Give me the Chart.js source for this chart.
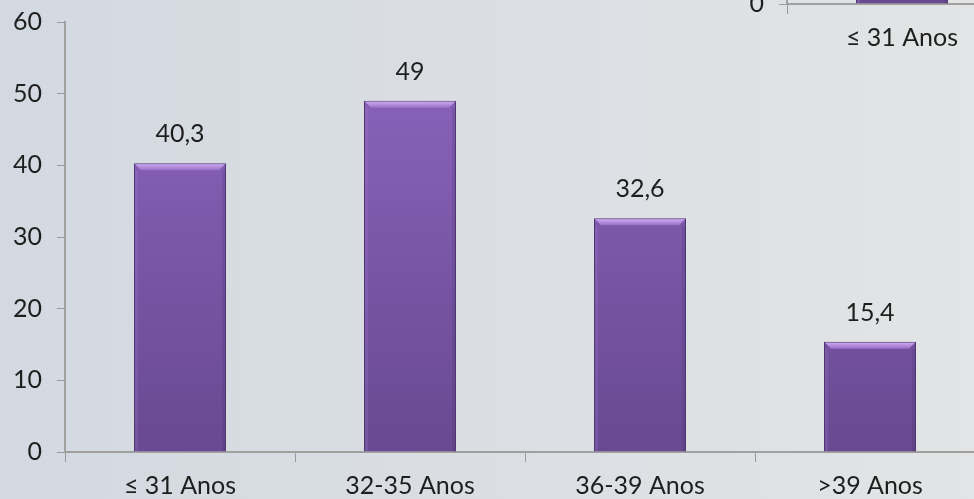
<!DOCTYPE html>
<html>
<head>
<meta charset="utf-8">
<script src="https://cdn.jsdelivr.net/npm/chart.js@4/dist/chart.umd.min.js"></script>
<style>
  html, body { margin: 0; padding: 0; width: 974px; height: 499px; overflow: hidden; }
  body { background: linear-gradient(to right, #d3d9e1 0%, #dadee3 45%, #e2e4e5 100%); position: relative; }
  .wrap { position: absolute; width: 1000px; height: 520px; }
  #main { left: 0; top: 0; }
  #inset { left: 722px; top: -448px; }
</style>
</head>
<body>
<div class="wrap" id="main"><canvas id="mainChart"></canvas></div>
<div class="wrap" id="inset"><canvas id="insetChart"></canvas></div>
<script>
// chart data
var categories = ['≤ 31 Anos', '32-35 Anos', '36-39 Anos', '>39 Anos']
var values = [40.3, 49, 32.6, 15.4]
var valueLabels = ['40,3', '49', '32,6', '15,4']
var yMin = 0
var yMax = 60
var yStep = 10

var fontFamily = 'Lato, "Noto Sans", sans-serif'

// bevel + value labels drawn on top of the bars
var barDecor = {
  id: 'barDecor',
  afterDatasetsDraw: function (chart) {
    var ctx = chart.ctx
    var meta = chart.getDatasetMeta(0)
    meta.data.forEach(function (bar, i) {
      var left = bar.x - bar.width / 2
      var right = bar.x + bar.width / 2
      var top = bar.y
      var b = 7
      ctx.save()
      // top bevel
      var g = ctx.createLinearGradient(0, top, 0, top + b)
      g.addColorStop(0, '#d3aef5')
      g.addColorStop(1, '#9a70c8')
      ctx.fillStyle = g
      ctx.beginPath()
      ctx.moveTo(left + 1, top + 1)
      ctx.lineTo(right - 1, top + 1)
      ctx.lineTo(right - b, top + b)
      ctx.lineTo(left + b, top + b)
      ctx.closePath()
      ctx.fill()
      // side shading
      ctx.fillStyle = 'rgba(160,120,205,0.25)'
      ctx.fillRect(left + 1, top + b, 3, bar.base - top - b)
      ctx.fillStyle = 'rgba(70,45,110,0.2)'
      ctx.fillRect(right - 4, top + b, 3, bar.base - top - b)
      // value label
      ctx.fillStyle = '#1e1e1e'
      ctx.font = '25px ' + fontFamily
      ctx.textAlign = 'center'
      ctx.textBaseline = 'middle'
      ctx.fillText(valueLabels[i], bar.x, top - 29)
      ctx.restore()
    })
  }
}

function barFill(context) {
  var chart = context.chart
  var area = chart.chartArea
  if (!area) return '#7a56a6'
  var g = chart.ctx.createLinearGradient(0, area.top, 0, area.bottom)
  g.addColorStop(0, '#8e66c0')
  g.addColorStop(1, '#694991')
  return g
}

function makeChart(id) {
  var ctx = document.getElementById(id).getContext('2d')
  return new Chart(ctx, {
    type: 'bar',
    data: {
      labels: categories,
      datasets: [{
        data: values,
        backgroundColor: barFill,
        borderColor: '#4e3670',
        borderWidth: 1,
        barPercentage: 0.4,
        categoryPercentage: 1
      }]
    },
    options: {
      responsive: true,
      maintainAspectRatio: false,
      animation: false,
      layout: { padding: { top: 22, left: 0, right: 15, bottom: 0 } },
      plugins: { legend: { display: false }, tooltip: { enabled: false } },
      scales: {
        x: {
          grid: { drawOnChartArea: false, drawTicks: true, tickLength: 10, color: '#9a9a9a', offset: true },
          border: { display: true, color: '#a0a0a0', width: 2 },
          ticks: { color: '#1e1e1e', font: { size: 25, family: fontFamily }, padding: 9, maxRotation: 0 },
          afterFit: function (axis) { axis.height = 68 }
        },
        y: {
          min: yMin,
          max: yMax,
          grid: { drawOnChartArea: false, drawTicks: true, tickLength: 8, color: '#9a9a9a' },
          border: { display: true, color: '#a0a0a0', width: 2 },
          ticks: { stepSize: yStep, color: '#1e1e1e', font: { size: 25, family: fontFamily }, padding: 15 },
          afterFit: function (axis) {
            axis.width = 65
            axis.paddingTop = 0
            axis.paddingBottom = 0
          }
        }
      }
    },
    plugins: [barDecor]
  })
}

makeChart('mainChart')
makeChart('insetChart')
</script>
</body>
</html>
